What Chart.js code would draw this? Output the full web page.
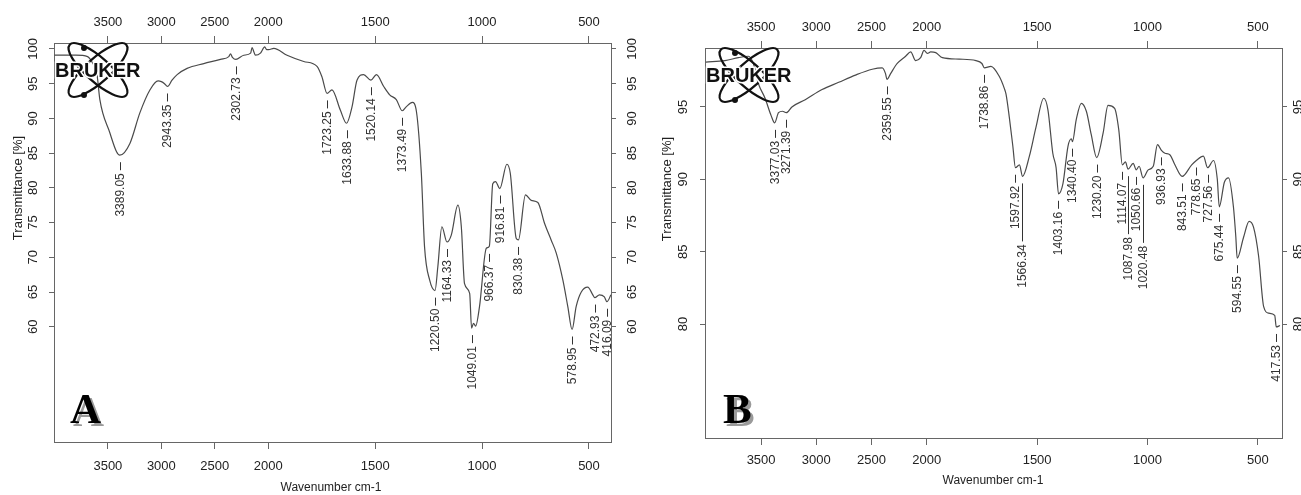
<!DOCTYPE html>
<html>
<head>
<meta charset="utf-8">
<script src="https://cdn.jsdelivr.net/npm/chart.js@4.4.1/dist/chart.umd.min.js"></script>
<style>
html, body { margin: 0; padding: 0; background: #fff; }
#wrap { position: relative; width: 1301px; height: 495px; overflow: hidden; background: #fff; }
canvas { position: absolute; top: 0; }
#chartA { left: 0; }
#chartB { left: 650px; }
</style>
</head>
<body>
<div id="wrap">
    <canvas id="chartA" width="650" height="495"></canvas>
    <canvas id="chartB" width="651" height="495"></canvas>
</div>
<script>
// -----------------------------
// TICKS
// -----------------------------
const xTicks = [3500, 3000, 2500, 2000, 1500, 1000, 500];
const yTicksA = [60, 65, 70, 75, 80, 85, 90, 95, 100];
const yTicksB = [80, 85, 90, 95];

// -----------------------------
// SPECTRUM A  (wavenumber cm-1 / transmittance %)
// -----------------------------
const waveA = [4000, 3800, 3690, 3640, 3603, 3575, 3481, 3419, 3389, 3294,
    3201, 3107, 3030, 3000, 2970, 2943, 2900, 2852, 2759, 2603,
    2447, 2369, 2353, 2335, 2303, 2229, 2165, 2151, 2135, 2120,
    2073, 2033, 2015, 1998, 1974, 1912, 1834, 1772, 1749, 1725,
    1702, 1663, 1634, 1608, 1585, 1554, 1520, 1494, 1460, 1432,
    1401, 1373, 1354, 1326, 1307, 1284, 1269, 1245, 1220, 1207,
    1188, 1164, 1144, 1113, 1097, 1082, 1058, 1049, 1040, 1030,
    1012, 980, 966, 950, 937, 917, 884, 868, 840, 830,
    797, 770, 739, 708, 677, 653, 622, 599, 579, 560,
    536, 506, 482, 473, 451, 428, 416, 397];
const transA = [99.1, 99.1, 98.9, 97.9, 96.5, 92.7, 87.9, 85.2, 84.7, 86.4,
    90.8, 94.1, 95.4, 95.3, 95.0, 94.6, 95.5, 96.3, 97.2, 97.9,
    98.5, 98.9, 99.3, 98.8, 98.5, 99.1, 99.4, 100.2, 99.6, 99.1,
    99.4, 100.3, 99.9, 99.9, 100.1, 99.1, 98.2, 97.5, 96.0, 93.6,
    94.1, 91.2, 89.3, 91.7, 95.5, 96.3, 95.5, 96.3, 94.6, 93.4,
    92.7, 91.1, 91.7, 92.3, 91.0, 82.1, 71.5, 66.7, 65.2, 68.6,
    74.4, 72.2, 73.2, 77.5, 74.4, 66.2, 64.8, 59.8, 60.5, 60.1,
    62.9, 71.3, 71.6, 80.6, 80.9, 79.9, 83.4, 82.1, 72.7, 72.5,
    79.0, 78.2, 77.9, 74.9, 72.5, 70.6, 66.7, 62.9, 59.6, 62.9,
    65.0, 65.7, 64.6, 64.2, 64.6, 64.3, 63.6, 64.6];

const peaksA = [3389.05, 2943.35, 2302.73, 1723.25, 1633.88, 1520.14, 1373.49,
    1220.50, 1164.33, 1049.01, 966.37, 916.81, 830.38, 578.95, 472.93, 416.09];
const peakTA = [84.7, 94.6, 98.5, 93.6, 89.3, 95.5, 91.1,
    65.2, 72.2, 59.8, 71.5, 79.9, 72.5, 59.6, 64.2, 63.6];

// -----------------------------
// SPECTRUM B
// -----------------------------
const waveB = [4000, 3827, 3706, 3615, 3570, 3524, 3464, 3409, 3377, 3342,
    3306, 3271, 3221, 3100, 2948, 2797, 2645, 2494, 2403, 2373,
    2360, 2327, 2267, 2191, 2145, 2100, 2055, 2024, 1997, 1982,
    1959, 1929, 1853, 1777, 1750, 1739, 1709, 1671, 1649, 1641,
    1626, 1610, 1598, 1580, 1566, 1535, 1505, 1470, 1451, 1429,
    1414, 1403, 1383, 1360, 1345, 1340, 1323, 1300, 1277, 1255,
    1230, 1201, 1179, 1149, 1130, 1114, 1100, 1088, 1065, 1051,
    1038, 1020, 997, 974, 955, 937, 921, 899, 876, 843,
    800, 779, 747, 728, 701, 684, 675, 652, 633, 611,
    600, 594, 565, 540, 520, 497, 474, 451, 424, 417, 400];
const transB = [98.1, 98.2, 98.4, 98.5, 98.0, 96.6, 95.6, 94.4, 93.9, 94.6,
    94.7, 94.6, 95.0, 95.5, 96.2, 96.7, 97.2, 97.6, 97.7, 97.3,
    96.9, 97.3, 98.0, 98.5, 98.8, 98.2, 98.4, 98.9, 98.7, 98.8,
    98.75, 98.4, 98.3, 98.2, 98.0, 97.7, 97.8, 97.1, 96.3, 95.9,
    94.3, 92.3, 90.8, 91.0, 90.2, 91.6, 93.6, 95.6, 94.8, 91.8,
    90.8, 89.0, 89.7, 92.3, 92.8, 92.6, 94.1, 95.25, 94.7, 93.1,
    91.5, 93.2, 95.1, 94.9, 93.4, 91.0, 91.2, 90.7, 91.1, 90.65,
    90.9, 90.1, 90.65, 90.9, 92.4, 92.0, 91.8, 91.7, 91.0, 90.2,
    91.0, 91.3, 91.6, 90.8, 91.3, 90.0, 88.1, 89.8, 90.1, 88.1,
    86.0, 84.55, 86.0, 87.1, 86.7, 84.7, 81.2, 80.75, 80.6, 79.8, 79.9];

const peaksB = [3377.03, 3271.39, 2359.55, 1738.86, 1597.92, 1566.34, 1403.16,
    1340.40, 1230.20, 1114.07, 1087.98, 1050.66, 1020.48, 936.93, 843.51,
    778.65, 727.56, 675.44, 594.55, 417.53];
const peakTB = [93.9, 94.6, 96.9, 97.7, 90.8, 90.2, 89.0,
    92.6, 91.5, 91.0, 90.7, 90.65, 90.1, 92.0, 90.2,
    91.3, 90.8, 88.1, 84.55, 79.8];
// labels drawn with a long leader line
const longPeaksB = [1566.34, 1087.98, 1020.48];


// -----------------------------
// OPUS SPLIT AXIS: above 2000 the scale is compressed 2x
// -----------------------------
function toAxis(w) { return w > 2000 ? 2000 + (w - 2000) / 2 : w; }
function fromAxis(u) { return u > 2000 ? 2000 + (u - 2000) * 2 : u; }

const FONT = '"Liberation Sans", Arial, sans-serif';
const INK = "#222";
const FRAME = "#666";


function drawLogo(ctx, left, top) {
    const cx = left + 44, cy = top + 27;
    ctx.save();
    ctx.strokeStyle = "#111";
    ctx.lineWidth = 2.2;
    ctx.beginPath();
    ctx.ellipse(cx, cy, 38, 12, 0.73, 0, Math.PI * 2);
    ctx.stroke();
    ctx.beginPath();
    ctx.ellipse(cx, cy, 38, 12, -0.73, 0, Math.PI * 2);
    ctx.stroke();
    ctx.fillStyle = "#111";
    ctx.beginPath();
    ctx.arc(cx - 14, cy - 22, 3, 0, Math.PI * 2);
    ctx.arc(cx - 14, cy + 25, 3, 0, Math.PI * 2);
    ctx.fill();
    ctx.font = 'bold 20px ' + FONT;
    ctx.textBaseline = "alphabetic";
    ctx.textAlign = "left";
    ctx.lineWidth = 3;
    ctx.strokeStyle = "#fff";
    ctx.strokeText("BRUKER", left + 1, top + 34);
    ctx.fillStyle = "#111";
    ctx.fillText("BRUKER", left + 1, top + 34);
    ctx.restore();
}


function makeChart(id, cfg) {

    const points = cfg.wave.map((w, i) => ({ x: toAxis(w), y: cfg.trans[i] }));

    const decor = {
        id: "decor" + id,
        afterDatasetsDraw(chart) {
            const ctx = chart.ctx;
            const xs = chart.scales.x;
            const ys = chart.scales.y;
            const area = chart.chartArea;

            // peak labels
            ctx.save();
            ctx.fillStyle = "#333";
            ctx.strokeStyle = "#333";
            ctx.lineWidth = 1;
            ctx.font = '12px ' + FONT;
            cfg.peaks.forEach((w, i) => {
                const px = Math.round(xs.getPixelForValue(toAxis(w))) + 0.5;
                const top = ys.getPixelForValue(cfg.peakT[i]) + 7;
                const lead = cfg.longPeaks.includes(w) ? 58 : 8;
                ctx.beginPath();
                ctx.moveTo(px, top);
                ctx.lineTo(px, top + lead);
                ctx.stroke();
                ctx.save();
                ctx.translate(px, top + lead + 3);
                ctx.rotate(-Math.PI / 2);
                ctx.textAlign = "right";
                ctx.textBaseline = "middle";
                ctx.fillText(w.toFixed(2), 0, 0);
                ctx.restore();
            });
            ctx.restore();

            // rotated y tick labels, both sides
            ctx.save();
            ctx.fillStyle = INK;
            ctx.font = '13px ' + FONT;
            ctx.textAlign = "center";
            ctx.textBaseline = "middle";
            cfg.yTicks.forEach(v => {
                const py = ys.getPixelForValue(v);
                [area.left - cfg.leftLabelGap, area.right + cfg.rightLabelGap].forEach(x => {
                    ctx.save();
                    ctx.translate(x, py);
                    ctx.rotate(-Math.PI / 2);
                    ctx.fillText(String(v), 0, 0);
                    ctx.restore();
                });
            });

            // axis titles
            ctx.font = '12px ' + FONT;
            ctx.fillText("Wavenumber cm-1", cfg.xTitle[0], cfg.xTitle[1]);
            ctx.save();
            ctx.font = '13px ' + FONT;
            ctx.translate(cfg.yTitle[0], cfg.yTitle[1]);
            ctx.rotate(-Math.PI / 2);
            ctx.fillText("Transmittance [%]", 0, 0);
            ctx.restore();

            // panel letter with shadow
            ctx.font = 'bold 43px "Liberation Serif", "Times New Roman", serif';
            ctx.textAlign = "left";
            ctx.textBaseline = "alphabetic";
            ctx.fillStyle = "#9a9a9a";
            ctx.fillText(cfg.letter, area.left + cfg.letterPos[0] + 3, area.top + cfg.letterPos[1] + 3);
            ctx.fillStyle = "#000";
            ctx.fillText(cfg.letter, area.left + cfg.letterPos[0], area.top + cfg.letterPos[1]);
            ctx.restore();

            drawLogo(ctx, area.left, area.top);
        }
    };

    const xAxis = (pos, size, pad) => ({
        type: "linear",
        position: pos,
        reverse: true,
        min: cfg.xMin,
        max: cfg.xMax,
        afterBuildTicks: s => { s.ticks = xTicks.map(w => ({ value: toAxis(w) })); },
        afterFit: s => { s.height = size; },
        ticks: {
            autoSkip: false,
            maxRotation: 0,
            padding: pad,
            color: INK,
            font: { family: FONT, size: 13 },
            callback: v => String(Math.round(fromAxis(v)))
        },
        grid: { drawOnChartArea: false, drawTicks: true, tickLength: 7, color: FRAME },
        border: { display: true, color: FRAME, width: 1 }
    });

    const yAxis = (pos, size) => ({
        type: "linear",
        position: pos,
        min: cfg.yMin,
        max: cfg.yMax,
        afterBuildTicks: s => { s.ticks = cfg.yTicks.map(v => ({ value: v })); },
        afterFit: s => { s.width = size; },
        ticks: { display: false },
        grid: { drawOnChartArea: false, drawTicks: true, tickLength: 5, color: FRAME },
        border: { display: true, color: FRAME, width: 1 }
    });

    return new Chart(document.getElementById(id), {
        type: "line",
        data: {
            datasets: [{
                data: points,
                xAxisID: "x",
                yAxisID: "y",
                borderColor: "#4a4a4a",
                borderWidth: 1.2,
                pointRadius: 0,
                cubicInterpolationMode: "monotone",
                fill: false
            }]
        },
        options: {
            responsive: false,
            animation: false,
            devicePixelRatio: 1,
            layout: { padding: 0, autoPadding: false },
            plugins: { legend: { display: false }, tooltip: { enabled: false } },
            scales: {
                x: xAxis("bottom", cfg.box.bottom, cfg.padBottom),
                x2: xAxis("top", cfg.box.top, cfg.padTop),
                y: yAxis("left", cfg.box.left),
                y2: yAxis("right", cfg.box.right)
            }
        },
        plugins: [decor]
    });
}


makeChart("chartA", {
    wave: waveA, trans: transA,
    peaks: peaksA, peakT: peakTA, longPeaks: [],
    yTicks: yTicksA,
    xMin: 397, xMax: 3002, yMin: 43.4, yMax: 100.86,
    box: { left: 54, right: 39, top: 43, bottom: 53 },
    padTop: 6, padBottom: 10,
    leftLabelGap: 21, rightLabelGap: 21,
    xTitle: [331, 488], yTitle: [18, 188],
    letter: "A", letterPos: [16, 380]
});

makeChart("chartB", {
    wave: waveB, trans: transB,
    peaks: peaksB, peakT: peakTB, longPeaks: longPeaksB,
    yTicks: yTicksB,
    xMin: 391, xMax: 3004, yMin: 72.13, yMax: 99.07,
    box: { left: 55, right: 19, top: 48, bottom: 57 },
    padTop: 6, padBottom: 8,
    leftLabelGap: 22, rightLabelGap: 16,
    xTitle: [343, 481], yTitle: [17, 189],
    letter: "B", letterPos: [18, 375]
});
</script>
</body>
</html>
